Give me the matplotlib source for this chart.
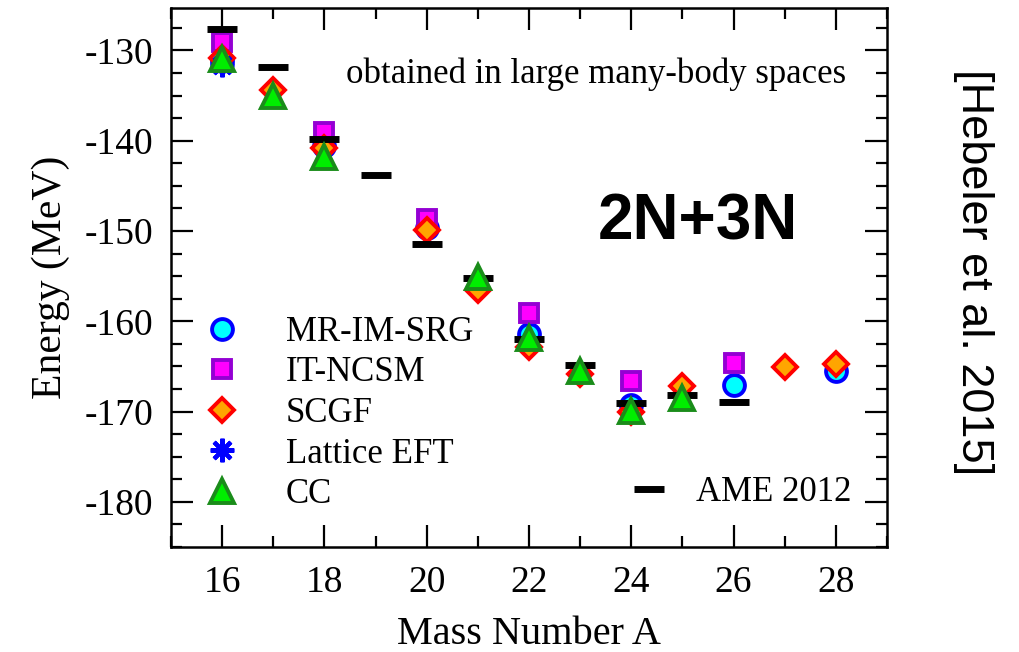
import matplotlib
matplotlib.use("Agg")
import matplotlib.pyplot as plt
from matplotlib.ticker import MultipleLocator, FuncFormatter
from matplotlib.lines import Line2D

# Oxygen isotope ground-state energies (MeV) vs mass number A
ame_A = [16, 17, 18, 19, 20, 21, 22, 23, 24, 25, 26]
ame_E = [-127.6, -131.8, -139.8, -143.8, -151.4, -155.2, -162.0, -164.8, -169.0, -168.2, -168.9]

imsrg_A = [16, 18, 20, 22, 24, 26, 28]
imsrg_E = [-131.2, -140.6, -149.7, -161.4, -169.3, -167.0, -165.5]

ncsm_A = [16, 18, 20, 22, 24, 26]
ncsm_E = [-129.1, -139.0, -148.7, -159.1, -166.6, -164.6]

scgf_A = [16, 17, 18, 20, 21, 22, 23, 24, 25, 27, 28]
scgf_E = [-130.8, -134.4, -140.8, -149.9, -156.5, -162.8, -165.8, -170.0, -167.2, -165.1, -164.7]

lattice_A = [16]
lattice_E = [-131.6]

cc_A = [16, 17, 18, 21, 22, 23, 24, 25]
cc_E = [-131.0, -135.0, -141.8, -155.1, -161.8, -165.5, -169.9, -168.5]

serif = "Liberation Serif"
sans = "Liberation Sans"

fig = plt.figure(figsize=(10.2, 6.52), dpi=100)
ax = fig.add_axes([0.1676, 0.161, 0.702, 0.8267])

circle_style = dict(ls="none", marker="o", ms=15, mfc="#00ffff", mec="#0000ff", mew=2.8)
square_style = dict(ls="none", marker="s", ms=13, mfc="#ff00ff", mec="#9400d3", mew=2.8)
diamond_style = dict(ls="none", marker="D", ms=12.5, mfc="#ffa500", mec="#ff0000", mew=2.8)
star_style = dict(ls="none", marker=(8, 2, 0), ms=17, mec="#0000ff", mfc="#0000ff", mew=3)
tri_style = dict(ls="none", marker="^", ms=17, mfc="#00ee00", mec="#1a8c1a", mew=2.8)
ame_style = dict(ls="none", marker="_", ms=22, mec="black", mew=5)

ax.plot(imsrg_A, imsrg_E, zorder=3, **circle_style)
ax.plot(ncsm_A, ncsm_E, zorder=4, **square_style)
ax.plot(scgf_A, scgf_E, zorder=5, **diamond_style)
ax.plot(lattice_A, lattice_E, zorder=6, **star_style)
ax.plot(ame_A, ame_E, zorder=7, **ame_style)
ax.plot(cc_A, cc_E, zorder=8, **tri_style)

ax.set_xlim(15, 29)
ax.set_ylim(-185, -125.3)
ax.xaxis.set_major_locator(MultipleLocator(2))
ax.xaxis.set_minor_locator(MultipleLocator(1))
ax.yaxis.set_major_locator(MultipleLocator(10))
ax.yaxis.set_minor_locator(MultipleLocator(2.5))
ax.tick_params(which="both", direction="in", top=True, right=True, width=1.6)
ax.tick_params(which="major", length=16, pad=13, labelsize=27)
ax.tick_params(which="minor", length=8)
ax.yaxis.set_major_formatter(FuncFormatter(lambda v, p: f"{int(v)}"))
for lab in ax.get_xticklabels() + ax.get_yticklabels():
    lab.set_fontfamily(serif)
for sp in ax.spines.values():
    sp.set_linewidth(1.8)

ax.set_xlabel("Mass Number A", fontsize=29, fontfamily=serif, labelpad=12)
ax.set_ylabel("Energy (MeV)", fontsize=30, fontfamily=serif, labelpad=10)

ax.text(28.2, -132.6, "obtained in large many-body spaces", ha="right", va="center",
        fontsize=25, fontfamily=serif)
ax.text(25.3, -149.1, "2N+3N", ha="center", va="center", fontsize=46,
        fontweight="bold", fontfamily=sans)

handles = [
    Line2D([], [], **circle_style),
    Line2D([], [], **square_style),
    Line2D([], [], **diamond_style),
    Line2D([], [], **star_style),
    Line2D([], [], **tri_style),
]
labels = ["MR-IM-SRG", "IT-NCSM", "SCGF", "Lattice EFT", "CC"]
leg = ax.legend(handles, labels, loc="upper left", bbox_to_anchor=(0.027, 0.455),
                frameon=False, prop={"family": serif, "size": 25}, handlelength=1.0,
                handletextpad=1.35, labelspacing=0.22, borderaxespad=0)
ax.add_artist(leg)
ax.legend([Line2D([], [], **ame_style)], ["AME 2012"], loc="lower right",
          bbox_to_anchor=(0.97, 0.045), frameon=False,
          prop={"family": serif, "size": 25}, handlelength=1.1, handletextpad=0.8,
          borderaxespad=0)

fig.text(0.954, 0.583, "[Hebeler et al. 2015]", rotation=-90, ha="center", va="center",
         fontsize=32.5, fontfamily=sans)

fig.savefig("out.png", dpi=100)
